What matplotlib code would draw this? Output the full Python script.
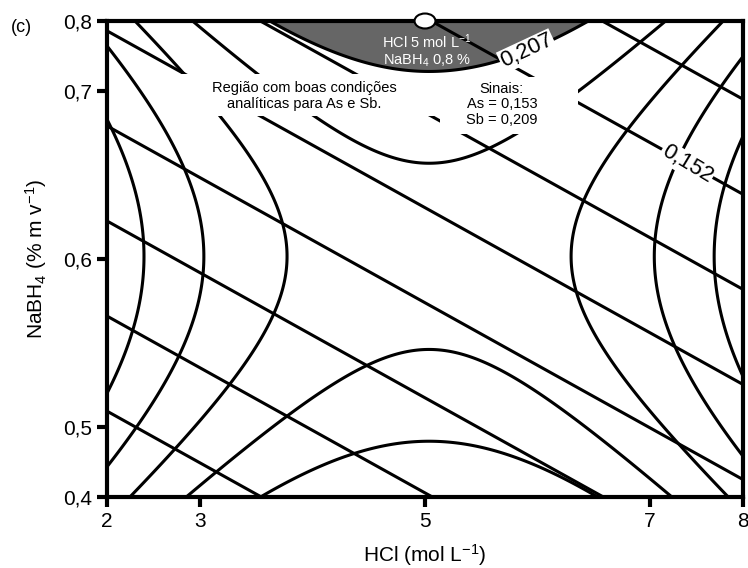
import numpy as np
import matplotlib.pyplot as plt
from matplotlib.patches import Ellipse, Rectangle

plt.rcParams['font.family'] = ['Liberation Sans', 'DejaVu Sans']
plt.rcParams['mathtext.default'] = 'regular'

# central composite design, coded levels (alpha = sqrt(2))
alpha = np.sqrt(2)
coded_ticks = [-alpha, -1, 0, 1, alpha]
hcl_labels = ['2', '3', '5', '7', '8']
nabh4_labels = ['0,4', '0,5', '0,6', '0,7', '0,8']

# fitted response models (coded x1 = HCl, x2 = NaBH4)
as_coef = [0.14692, 0.00263, 0.00354]                           # b0, b1, b2
sb_coef = [0.20432, 0.00012, -0.00007, -0.00331, 0.00222, 0.0]  # b0, b1, b2, b11, b22, b12
as_levels = [0.140, 0.142, 0.144, 0.146, 0.148, 0.150, 0.152, 0.154]
sb_levels = [0.199, 0.201, 0.203, 0.205, 0.207]
sb_limit = 0.207
as_label = '0,152'
sb_label = '0,207'

# chosen condition and its signals
optimum = [0.0, alpha]
as_opt = '0,153'
sb_opt = '0,209'

x = np.linspace(-alpha, alpha, 400)
X1, X2 = np.meshgrid(x, x)
AS = as_coef[0] + as_coef[1] * X1 + as_coef[2] * X2
SB = (sb_coef[0] + sb_coef[1] * X1 + sb_coef[2] * X2 + sb_coef[3] * X1 ** 2
      + sb_coef[4] * X2 ** 2 + sb_coef[5] * X1 * X2)

fig = plt.figure(figsize=(7.48, 5.68), dpi=100)
ax = fig.add_axes([107 / 748, 71 / 568, 636 / 748, 476 / 568])

# good region (upper part only)
SBtop = np.where(X2 > 0, SB, np.nan)
ax.contourf(X1, X2, SBtop, levels=[sb_limit, 1], colors=['#666666'], zorder=1)

ax.contour(X1, X2, AS, levels=as_levels, colors='k', linewidths=2.2, zorder=2)
ax.contour(X1, X2, SB, levels=sb_levels, colors='k', linewidths=2.2, zorder=2)

# white boxes behind the notes
ax.add_patch(Rectangle((-1.12, 0.85), 1.19, 0.25, facecolor='white',
                       edgecolor='none', zorder=3))
ax.add_patch(Rectangle((0.067, 0.743), 0.613, 0.338, facecolor='white',
                       edgecolor='none', zorder=3))

ax.text(-0.538, 0.97, 'Região com boas condições\nanalíticas para As e Sb.',
        ha='center', va='center', fontsize=10.5, linespacing=1.15, zorder=4)
ax.text(0.342, 0.92, 'Sinais:\nAs = %s\nSb = %s' % (as_opt, sb_opt),
        ha='center', va='center', fontsize=10.5, linespacing=1.15, zorder=4)
ax.text(0.01, 1.236, 'HCl 5 mol L$^{-1}$\nNaBH$_4$ 0,8 %',
        ha='center', va='center', fontsize=10.5, color='white',
        linespacing=1.1, zorder=4)

# contour labels
ax.text(0.4535, 1.236, sb_label, rotation=25, ha='center', va='center',
        fontsize=16, zorder=5,
        bbox=dict(boxstyle='square,pad=0.05', facecolor='white', edgecolor='none'))
ax.text(1.165, 0.564, as_label, rotation=-31, ha='center', va='center',
        fontsize=16, zorder=5,
        bbox=dict(boxstyle='square,pad=0.05', facecolor='white', edgecolor='none'))

ax.add_patch(Ellipse((optimum[0], optimum[1]), 0.093, 0.089, facecolor='white',
                     edgecolor='k', lw=1.5, clip_on=False, zorder=10))

ax.set_xlim(-alpha, alpha)
ax.set_ylim(-alpha, alpha)
ax.set_xticks(coded_ticks, hcl_labels)
ax.set_yticks(coded_ticks, nabh4_labels)
ax.tick_params(width=3, length=7, labelsize=15, direction='out', pad=4)
for s in ax.spines.values():
    s.set_linewidth(3)
    s.set_zorder(6)

ax.set_xlabel('HCl (mol L$^{-1}$)', fontsize=15, labelpad=8)
ax.set_ylabel('NaBH$_4$ (% m v$^{-1}$)', fontsize=15, labelpad=10)
fig.text(0.028, 0.951, '(c)', fontsize=13, ha='center', va='center')

plt.savefig('out.png', dpi=100)
